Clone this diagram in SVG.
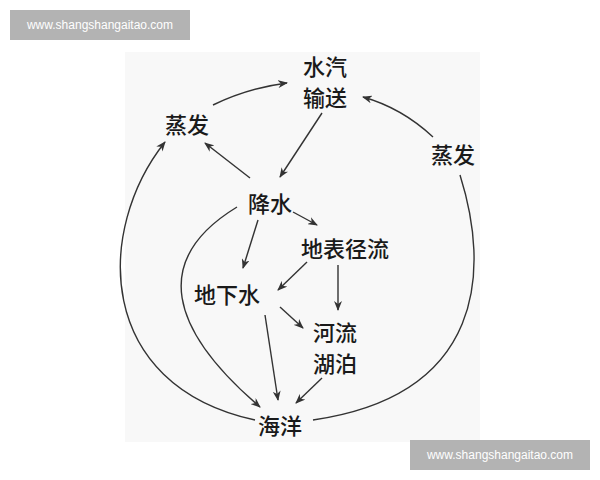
<svg xmlns="http://www.w3.org/2000/svg" width="600" height="480" viewBox="0 0 600 480">
<style>
.t{font-family:"Noto Sans CJK SC","Noto Sans CJK JP",sans-serif;font-size:22px;font-weight:500;fill:#1a1a1a;text-anchor:middle;dominant-baseline:central}
.w{font-family:"Liberation Sans",sans-serif;font-size:12px;fill:#fff;text-anchor:middle;dominant-baseline:central}
.c{fill:none;stroke:#333;stroke-width:1.4}
</style>
<defs><marker id="a" markerWidth="10" markerHeight="8" refX="9" refY="4" orient="auto" markerUnits="userSpaceOnUse"><path d="M0,0 L10,4 L0,8 L3,4 Z" fill="#333"/></marker></defs>
<rect width="600" height="480" fill="#fff"/>
<rect x="125" y="52" width="355" height="390" fill="#f8f8f8"/>
<g id="wm1"><rect x="10" y="10" width="180" height="30" fill="#b3b3b3"/><text class="w" x="100" y="25">www.shangshangaitao.com</text></g>
<g id="wm2"><rect x="410" y="440" width="180" height="30" fill="#b3b3b3"/><text class="w" x="500" y="455">www.shangshangaitao.com</text></g>
<g id="connectors">
<path class="c" d="M213,105 Q248,88 287,83" marker-end="url(#a)"/>
<path class="c" d="M433,137 Q402,108 363,97" marker-end="url(#a)"/>
<path class="c" d="M322,113 L280,177" marker-end="url(#a)"/>
<path class="c" d="M250,178 L205,143" marker-end="url(#a)"/>
<path class="c" d="M293,212 L317,225" marker-end="url(#a)"/>
<path class="c" d="M258,220 L243,268" marker-end="url(#a)"/>
<path class="c" d="M307,262 L278,290" marker-end="url(#a)"/>
<path class="c" d="M338,265 L338,310" marker-end="url(#a)"/>
<path class="c" d="M280,307 L303,328" marker-end="url(#a)"/>
<path class="c" d="M265,315 L278,400" marker-end="url(#a)"/>
<path class="c" d="M322,378 L296,403" marker-end="url(#a)"/>
<path class="c" d="M237,207 C150,260 170,330 260,407" marker-end="url(#a)"/>
<path class="c" d="M255,420 C95,385 95,230 165,142" marker-end="url(#a)"/>
<path class="c" d="M313,420 C485,395 490,270 460,175"/>
</g>
<g id="n-vapor"><text class="t" x="325" y="65">水汽</text><text class="t" x="325" y="96">输送</text></g>
<g id="n-evap-l"><text class="t" x="187" y="123">蒸发</text></g>
<g id="n-evap-r"><text class="t" x="453" y="153">蒸发</text></g>
<g id="n-precip"><text class="t" x="270" y="202">降水</text></g>
<g id="n-runoff"><text class="t" x="345" y="247">地表径流</text></g>
<g id="n-ground"><text class="t" x="227" y="293">地下水</text></g>
<g id="n-river"><text class="t" x="335" y="331">河流</text><text class="t" x="335" y="362">湖泊</text></g>
<g id="n-ocean"><text class="t" x="280" y="424">海洋</text></g>
</svg>
